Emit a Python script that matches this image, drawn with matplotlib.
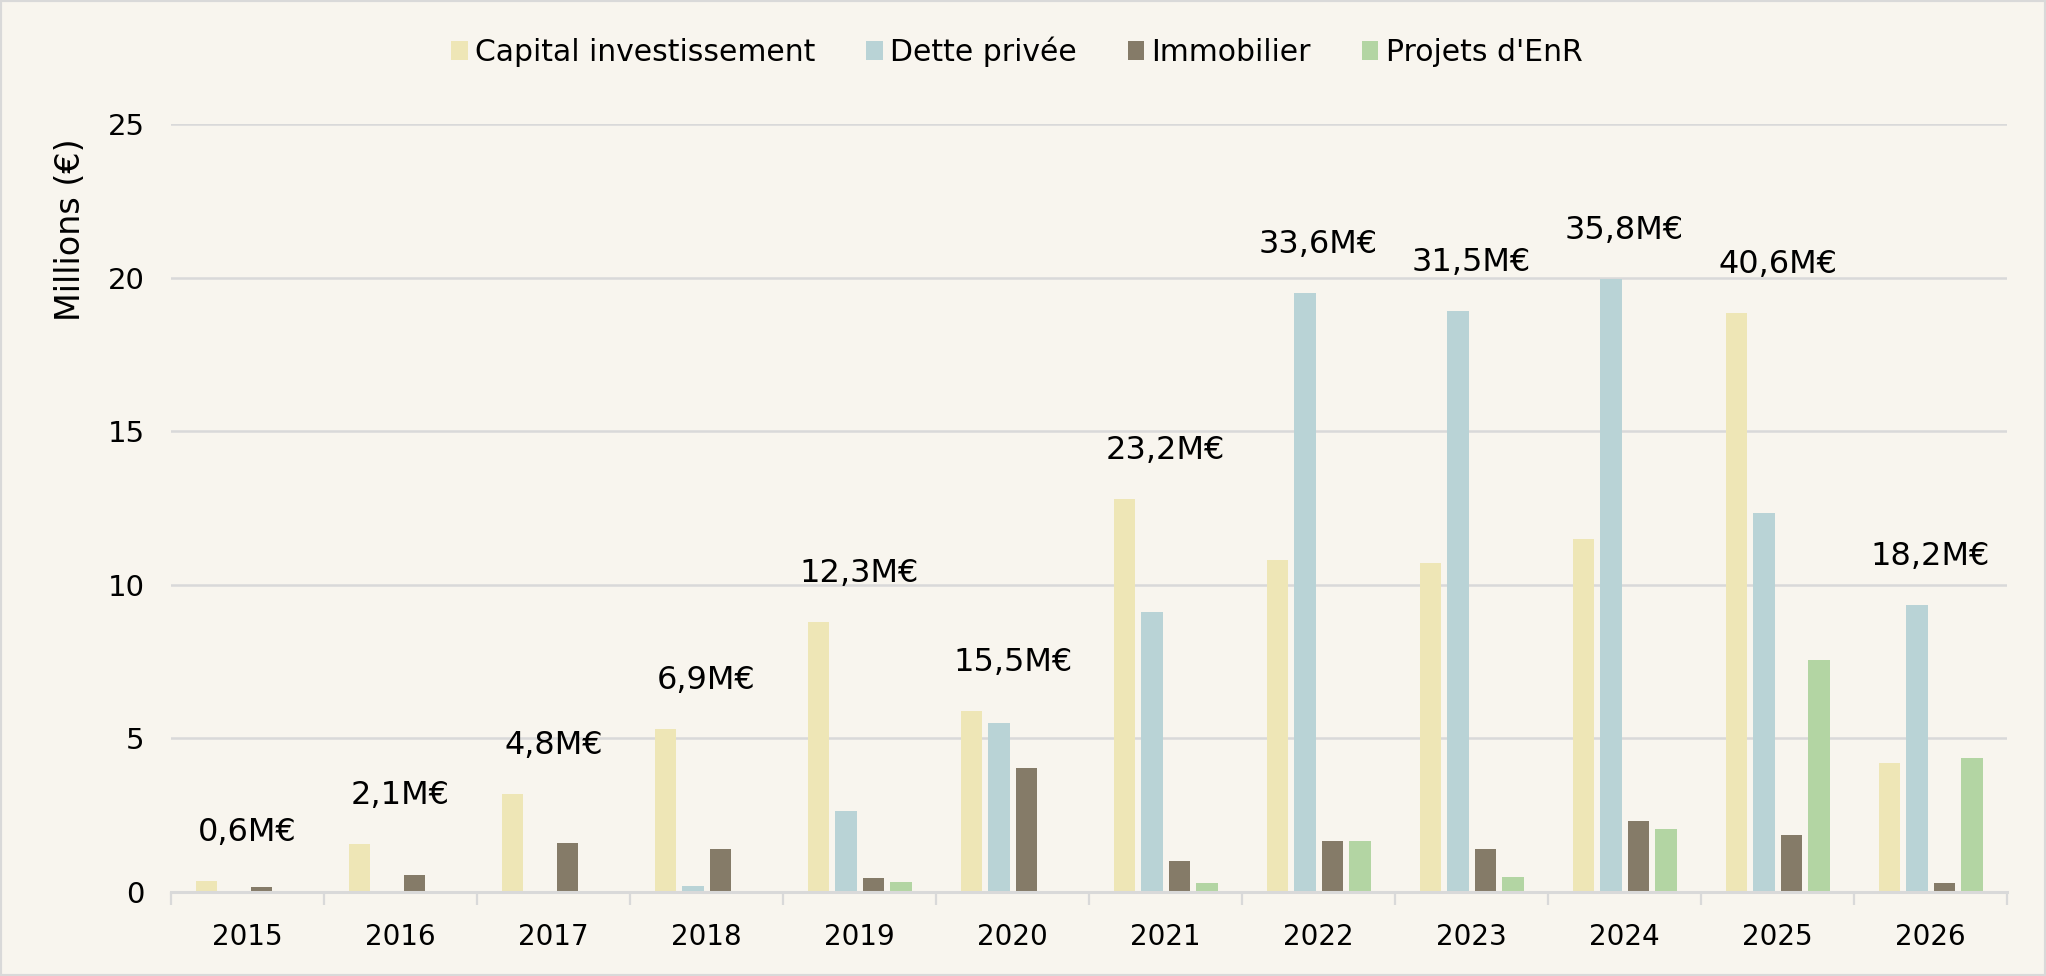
import numpy as np
import matplotlib
matplotlib.use("Agg")
import matplotlib.pyplot as plt
from matplotlib.patches import Rectangle

years = ["2015", "2016", "2017", "2018", "2019", "2020",
         "2021", "2022", "2023", "2024", "2025", "2026"]
capital = [0.35, 1.55, 3.2, 5.3, 8.8, 5.9, 12.8, 10.8, 10.7, 11.5, 18.85, 4.2]
dette = [0, 0, 0, 0.2, 2.65, 5.5, 9.1, 19.5, 18.9, 19.95, 12.35, 9.35]
immo = [0.18, 0.55, 1.6, 1.4, 0.45, 4.05, 1.0, 1.65, 1.4, 2.3, 1.85, 0.3]
enr = [0, 0, 0, 0, 0.32, 0, 0.28, 1.65, 0.5, 2.05, 7.55, 4.35]
totals = ["0,6M€", "2,1M€", "4,8M€", "6,9M€", "12,3M€", "15,5M€",
          "23,2M€", "33,6M€", "31,5M€", "35,8M€", "40,6M€", "18,2M€"]
series_names = ["Capital investissement", "Dette privée", "Immobilier", "Projets d'EnR"]
colors = ["#EEE6B6", "#B9D3D6", "#857B68", "#B3D5A3"]

bg = "#F8F5EE"
grid_c = "#D9D9D9"
plt.rcParams['font.family'] = ['DejaVu Sans']

fig = plt.figure(figsize=(20.46, 9.76), dpi=100, facecolor=bg)
ax = fig.add_axes([0.0836, 0.086, 0.8974, 0.787])
ax.set_facecolor(bg)

x = np.arange(len(years))
step = 0.18
width = 0.14
all_series = [capital, dette, immo, enr]
for i, (vals, name, c) in enumerate(zip(all_series, series_names, colors)):
    ax.bar(x + (i - 1.5) * step, vals, width=width, color=c, label=name, zorder=3)

# total labels above each group
for i, lab in enumerate(totals):
    top = max(s[i] for s in all_series)
    ax.annotate(lab, (x[i], top), xytext=(0, 35), textcoords="offset points",
                ha="center", va="center", fontsize=23, color="black")

ax.set_xlim(-0.5, len(years) - 0.5)
ax.set_ylim(0, 25)
ax.set_yticks([0, 5, 10, 15, 20, 25])
ax.yaxis.grid(True, color=grid_c, linewidth=1.8, zorder=0)
ax.tick_params(axis="y", length=0, labelsize=21, pad=19)
ax.set_xticks(x)
ax.set_xticklabels(years)
ax.set_xticks(np.arange(len(years) + 1) - 0.5, minor=True)
ax.tick_params(axis="x", which="major", length=0, labelsize=20, pad=22)
ax.tick_params(axis="x", which="minor", length=9, width=1.6, color=grid_c)
for sp in ["top", "right", "left"]:
    ax.spines[sp].set_visible(False)
ax.spines["bottom"].set_color(grid_c)
ax.spines["bottom"].set_linewidth(2.2)
ax.spines["bottom"].set_zorder(4)

ax.set_ylabel("Millions (€)", fontsize=24)
ax.yaxis.set_label_coords(-0.046, 0.862)

fig.legend(loc="center", bbox_to_anchor=(0.497, 0.947), ncol=4, frameon=False,
           fontsize=21.5, handlelength=0.55, handleheight=0.6,
           handletextpad=0.25, columnspacing=1.7)

fig.patches.append(Rectangle((0, 0), 1, 1, transform=fig.transFigure,
                             fill=False, edgecolor=grid_c, linewidth=3, zorder=10))

fig.savefig("out.png", dpi=100, facecolor=bg)
